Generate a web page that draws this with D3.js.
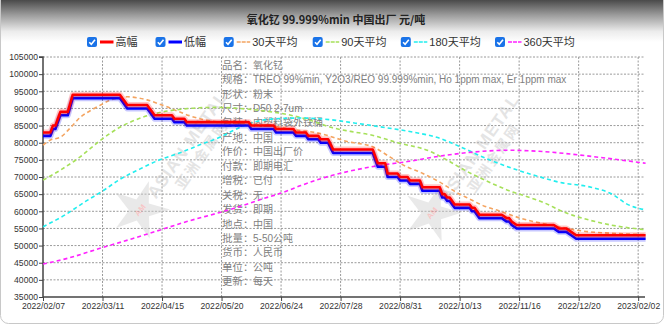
<!DOCTYPE html>
<html><head><meta charset="utf-8">
<script src="https://cdn.jsdelivr.net/npm/d3@7"></script>
<style>
html,body{margin:0;padding:0;background:#fff;}
svg{display:block;}
</style></head><body>
<svg id="c" width="664" height="325"></svg>
<script>
// ---------- DATA ----------
const chartTitle = "氧化钇 99.999%min 中国出厂 元/吨";
const seriesNames = ["高幅","低幅","30天平均","90天平均","180天平均","360天平均"];
const xLabels = ["2022/02/07","2022/03/11","2022/04/15","2022/05/20","2022/06/24","2022/07/28","2022/08/31","2022/10/13","2022/11/16","2022/12/20","2023/02/02"];
const xTickIndex = [0,24,48,72,96,120,144,168,192,216,240];
const lastIndex = 243;
const yTicks = [35000,40000,45000,50000,55000,60000,65000,70000,75000,80000,85000,90000,95000,100000,105000];

// price steps: [start day index, end day index] with high / low value
const stepStart = [0,4,6,7,12,32,33,34,43,44,45,53,58,84,94,102,107,112,116,117,135,139,144,148,153,161,163,165,166,173,175,176,187,189,191,208,213,215];
const stepEnd   = [3,5,6,10,31,32,33,42,43,44,52,57,83,93,101,106,111,115,116,133,138,143,147,152,160,162,164,165,172,174,175,185,188,189,206,211,213,243];
const highVal = [83000,85000,87000,89000,94000,93000,92000,91000,90000,89000,88000,87000,86000,85000,84000,83000,82000,81000,79500,78000,74000,71000,70000,69000,67000,65000,64000,63000,62000,61000,60000,59000,58000,57000,56000,55000,54000,53000];
const lowVal  = [82000,84000,86000,88000,93000,92000,91000,90000,89000,88000,87000,86000,85000,84000,83000,82000,81000,80000,78500,77000,73000,70000,69000,68000,66000,64000,63000,62000,61000,60000,59000,58000,57000,56000,55000,54000,53000,52000];

// moving averages (day index, value)
const ma30Idx = [0,3,7,11,15,20,24,27,31,34,38,42,46,50,54,59,65,72,86,94,100,111,123,133,140,146,153,160,167,172,178,184,193,206,217,232,243];
const ma30Val = [79300,80800,81600,84300,87400,89700,91300,92400,93100,93400,93100,92500,91500,90500,89300,87900,86700,85900,85300,84700,83900,82800,80300,78800,75800,73200,71100,68500,65400,63600,61500,60100,57900,55800,54300,53500,53200];
const ma90Idx = [0,7,15,23,31,39,47,55,63,71,79,88,100,108,116,124,132,143,156,164,170,177,188,195,202,210,221,229,243];
const ma90Val = [69100,72000,75900,80600,84500,87100,88800,89700,90200,90300,90000,89400,88000,86500,84500,83300,82300,80000,77500,74500,72000,69500,66000,64300,62500,59800,57300,56000,54600];
const ma180Idx = [0,9,17,24,31,39,47,55,63,71,78,85,94,104,116,126,139,150,160,168,180,191,200,208,221,230,235,243];
const ma180Val = [55500,59000,62800,65900,69300,72300,75000,77000,79300,81500,84000,86000,87000,87200,86700,85700,84300,83000,81300,78900,75000,72100,70100,68500,67000,64800,62300,60400];
const ma360Idx = [0,10,23,36,47,58,71,79,88,96,104,112,123,136,147,162,174,187,200,214,227,243];
const ma360Val = [44600,46300,49200,52000,54500,57000,59600,61300,63500,65300,67500,69500,71600,73400,74500,76300,77300,77800,77500,76600,75500,74000];

const infoLabels = ["品名：","规格：","形状：","尺寸：","包装：","产地：","作价：","付款：","增税：","关税：","发货：","地点：","批量：","货币：","单位：","更新："];
const infoValues = ["氧化钇","TREO 99%min, Y2O3/REO 99.999%min, Ho 1ppm max, Er 1ppm max","粉末","D50 2-7um","内塑料袋外铁桶","中国","中国出厂价","即期电汇","已付","无","即期","中国","5-50公吨","人民币","公吨","每天"];

// ---------- STYLE ----------
const W = 664, H = 325;
const M = {left:43, right:645.6, top:57, bottom:297};
const colors = ["#ff0000","#0000ff","#f4a460","#a6e05a","#22eeee","#ff22ff"];
const font = "'Liberation Sans', Arial, sans-serif";
const cjk = "'Noto Sans CJK SC', 'Liberation Sans', sans-serif";
const mixed = "'Liberation Sans', 'Noto Sans CJK SC', sans-serif";

const svg = d3.select("#c");
const defs = svg.append("defs");
const grad = defs.append("linearGradient").attr("id","topg").attr("x1",0).attr("x2",0).attr("y1",0).attr("y2",1);
grad.append("stop").attr("offset","0%").attr("stop-color","#4a4a4a");
grad.append("stop").attr("offset","35%").attr("stop-color","#9a9a9a");
grad.append("stop").attr("offset","75%").attr("stop-color","#ececec");
grad.append("stop").attr("offset","100%").attr("stop-color","#ffffff");

svg.append("rect").attr("width",W).attr("height",H).attr("fill","#fff");
svg.append("rect").attr("x",0).attr("y",0).attr("width",W).attr("height",42).attr("fill","url(#topg)");
svg.append("rect").attr("x",0.5).attr("y",-10).attr("width",W-1).attr("height",H+9.5-1).attr("rx",8)
  .attr("fill","none").attr("stroke","#c8c8c8").attr("stroke-width",1);

const x = d3.scaleLinear().domain([0,lastIndex]).range([M.left,M.right]);
const y = d3.scaleLinear().domain([35000,105000]).range([M.bottom,M.top]);

// grid
const grid = svg.append("g");
grid.selectAll(".hg").data(yTicks.filter(v=>v>35000)).enter().append("line")
  .attr("x1",M.left).attr("x2",645).attr("y1",d=>y(d)).attr("y2",d=>y(d))
  .attr("stroke","#9a9a9a").attr("stroke-width",1).attr("stroke-dasharray","2,1.5");
grid.selectAll(".vg").data(xTickIndex.filter(i=>i>0)).enter().append("line")
  .attr("x1",d=>x(d)).attr("x2",d=>x(d)).attr("y1",M.top).attr("y2",M.bottom)
  .attr("stroke","#9a9a9a").attr("stroke-width",1).attr("stroke-dasharray","2,1.5");

// watermarks
function watermark(cx, cy){
  const g = svg.append("g").attr("transform",`translate(${cx},${cy})`).attr("opacity",0.45);
  const star = d3.range(10).map(k=>{const r = k%2? 11 : 30; const a = -Math.PI/2 + k*Math.PI/5 + 0.3; return [r*Math.cos(a), r*Math.sin(a)];});
  g.append("polygon").attr("points",star.map(p=>p.join(",")).join(" ")).attr("fill","#cfcfcf");
  g.append("text").attr("x",0).attr("y",3).attr("text-anchor","middle").attr("font-size",8).attr("font-weight","bold")
    .attr("fill","#f08080").attr("transform","rotate(-50)").attr("font-family",font).text("AM");
  const t = g.append("g").attr("transform","translate(52,-62) rotate(-55)");
  t.append("text").attr("text-anchor","middle").attr("y",0).attr("font-size",17).attr("font-weight","bold")
    .attr("fill","#c4c4c4").attr("font-family",font).attr("letter-spacing",1).text("ASIAN METAL");
  t.append("text").attr("text-anchor","middle").attr("y",17).attr("font-size",14).attr("font-weight","bold")
    .attr("fill","#c4c4c4").attr("font-family",cjk).attr("letter-spacing",2).text("亚洲金属网");
}
watermark(140,210);
watermark(432,213);

// info text
const info = svg.append("g").attr("font-family",mixed).attr("font-size",10).attr("fill","#808080");
infoLabels.forEach((lab,k)=>{
  const yy = 65 + k*14.45 + 3.6;
  info.append("text").attr("x",222).attr("y",yy).attr("font-size",10.5).text(lab);
  info.append("text").attr("x",253).attr("y",yy).text(infoValues[k]);
});

// axes
const yAxis = d3.axisLeft(y).tickValues(yTicks).tickSize(4).tickFormat(d=>d);
const gy = svg.append("g").attr("transform",`translate(${M.left},0)`).call(yAxis);
gy.select(".domain").attr("stroke","#444").attr("stroke-width",1.5).attr("d",`M-4,${M.top}H0V${M.bottom}`);
gy.selectAll(".tick line").attr("stroke","#444");
gy.selectAll(".tick text").attr("font-family",font).attr("font-size",8.6).attr("fill","#333").attr("x",-5);

const xAxis = d3.axisBottom(x).tickValues(xTickIndex).tickSize(4).tickFormat((d,i)=>xLabels[i]);
const gx = svg.append("g").attr("transform",`translate(0,${M.bottom})`).call(xAxis);
gx.select(".domain").attr("stroke","#444").attr("stroke-width",1.5).attr("d",`M${M.left},0H645`);
gx.selectAll(".tick line").attr("stroke","#444");
gx.selectAll(".tick text").attr("font-family",font).attr("font-size",8.6).attr("fill","#333").attr("dy","0.6em");

// series
const lineFn = d3.line().x(d=>x(d[0])).y(d=>y(d[1]));
const curveFn = d3.line().x(d=>x(d[0])).y(d=>y(d[1])).curve(d3.curveMonotoneX);
function stepPts(vals){
  const pts=[];
  stepStart.forEach((s,k)=>{ pts.push([s,vals[k]]); if(stepEnd[k]!==s) pts.push([stepEnd[k],vals[k]]); });
  return pts;
}
const maSets = [[ma30Idx,ma30Val],[ma90Idx,ma90Val],[ma180Idx,ma180Val],[ma360Idx,ma360Val]];
maSets.forEach((s,k)=>{
  const pts = s[0].map((i,j)=>[i,s[1][j]]);
  svg.append("path").attr("d",curveFn(pts)).attr("fill","none").attr("stroke",colors[k+2])
    .attr("stroke-width",1.6).attr("stroke-dasharray","4,3");
});
[[lowVal,1],[highVal,0]].forEach(([vals,k])=>{
  const d = lineFn(stepPts(vals));
  svg.append("path").attr("d",d).attr("fill","none").attr("stroke",colors[k]).attr("stroke-opacity",0.22)
    .attr("stroke-width",6).attr("stroke-linejoin","round");
  svg.append("path").attr("d",d).attr("fill","none").attr("stroke",colors[k])
    .attr("stroke-width",2.6).attr("stroke-linejoin","round");
});

// title
svg.append("text").attr("x",336).attr("y",24).attr("text-anchor","middle").attr("font-family",cjk)
  .attr("font-size",11).attr("font-weight","bold").attr("fill","#222").text(chartTitle);

// legend
const legX = [87,155.5,223.7,312.7,400.8,495];
const lg = svg.append("g");
seriesNames.forEach((name,k)=>{
  const g = lg.append("g").attr("transform",`translate(${legX[k]},37)`);
  g.append("rect").attr("width",10).attr("height",10).attr("rx",2).attr("fill","#1a73e8");
  g.append("path").attr("d","M2.3,5.2 L4.3,7.2 L8,2.8").attr("fill","none").attr("stroke","#fff").attr("stroke-width",1.6);
  const ln = g.append("line").attr("x1",13).attr("x2",26.5).attr("y1",5).attr("y2",5).attr("stroke",colors[k]);
  if(k<2) ln.attr("stroke-width",3); else ln.attr("stroke-width",1.6).attr("stroke-dasharray","4,1");
  g.append("text").attr("x",28.5).attr("y",9.3).attr("font-family",mixed).attr("font-size",11).attr("fill","#333").text(name);
});
</script>
</body></html>
